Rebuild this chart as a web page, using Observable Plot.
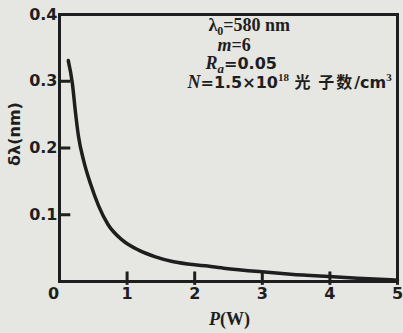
<!DOCTYPE html>
<html>
<head>
<meta charset="utf-8">
<script src="https://cdn.jsdelivr.net/npm/d3@7"></script>
<script src="https://cdn.jsdelivr.net/npm/@observablehq/plot@0.6"></script>
<style>
  html, body { margin: 0; padding: 0; background: #e6e6e2; }
  #chart svg { display: block; }
</style>
</head>
<body>
<div id="chart"></div>
<script>
// Data
const power = [0.13, 0.19, 0.24, 0.28, 0.36, 0.46, 0.58, 0.72, 0.93, 1.17, 1.42, 1.67, 2.16, 2.43, 2.99, 3.42, 3.98, 4.41, 5.0];
const deltaLambda = [0.331, 0.297, 0.250, 0.218, 0.180, 0.146, 0.113, 0.085, 0.062, 0.047, 0.037, 0.030, 0.0235, 0.020, 0.0145, 0.011, 0.0075, 0.005, 0.002];
const xTicks = [1, 2, 3, 4, 5];
const yTicks = [0.1, 0.2, 0.3, 0.4];
const xLabel = "P(W)";
const yLabel = "δλ(nm)";
const notes = ["λ0=580 nm", "m=6", "Ra=0.05", "N=1.5×1018 光子数/cm3"];

const curve = power.map((p, i) => ({p, v: deltaLambda[i]}));
const xTickMarks = xTicks.map(x => ({x, ya: -0.005, yb: 0.015}));
const yTickMarks = yTicks.map(y => ({y, xa: 0, xb: 0.16}));
const ink = "#1e1e1e";
const tickFont = "DejaVu Sans, sans-serif";
const serif = "Liberation Serif, DejaVu Serif, serif";

const noteStyle = [
  {dx: 149, dy: 11},
  {dx: 158, dy: 31},
  {dx: 146, dy: 49},
  {dx: 128, dy: 68}
];

const chart = Plot.plot({
  width: 403,
  height: 333,
  marginLeft: 59,
  marginRight: 6,
  marginTop: 14,
  marginBottom: 52,
  style: {background: "#e6e6e2", color: ink, fontFamily: tickFont},
  x: {type: "linear", domain: [0, 5]},
  y: {type: "linear", domain: [0, 0.4]},
  marks: [
    Plot.frame({stroke: ink, strokeWidth: 3}),
    Plot.axisX(xTicks, {tickSize: 0, tickPadding: 6, fontSize: 16, fontWeight: "bold", fontFamily: tickFont, label: null, tickFormat: d3.format("d")}),
    Plot.axisX([0], {tickSize: 0, tickPadding: 6, dx: -6, fontSize: 16, fontWeight: "bold", fontFamily: tickFont, label: null, tickFormat: d3.format("d")}),
    Plot.axisY(yTicks, {tickSize: 0, tickPadding: 2, fontSize: 16, fontWeight: "bold", fontFamily: tickFont, label: null, tickFormat: d3.format(".1f")}),
    // inward tick marks
    Plot.link(xTickMarks, {x1: "x", x2: "x", y1: "ya", y2: "yb", stroke: ink, strokeWidth: 3}),
    Plot.link(yTickMarks, {x1: "xa", x2: "xb", y1: "y", y2: "y", stroke: ink, strokeWidth: 3}),
    Plot.line(curve, {x: "p", y: "v", stroke: ink, strokeWidth: 3.5, curve: "monotone-x"}),
    Plot.text([yLabel], {frameAnchor: "left", textAnchor: "middle", dx: -45, dy: -14, rotate: -90, fontSize: 16, fontWeight: "bold", fontFamily: tickFont, fill: ink}),
    Plot.text([xLabel], {frameAnchor: "bottom", dx: 1, dy: 43, fontSize: 18, fontWeight: "bold", fontFamily: serif, fill: ink}),
    ...notes.map((t, i) => Plot.text([t], {
      frameAnchor: "top-left", textAnchor: "start", lineAnchor: "middle",
      dx: noteStyle[i].dx, dy: noteStyle[i].dy,
      fontSize: 18, fontWeight: "bold", fontFamily: serif, fill: ink
    }))
  ]
});

document.getElementById("chart").appendChild(chart);

// rich text formatting (italics, sub/superscripts)
const sans = 'font-family="DejaVu Sans" font-size="16"';
const rich = {
  "P(W)": '<tspan font-style="italic">P</tspan>(W)',
  "λ0=580 nm": 'λ<tspan font-size="12" dy="4">0</tspan><tspan dy="-4">=580 nm</tspan>',
  "m=6": '<tspan font-style="italic">m</tspan>=6',
  "Ra=0.05": '<tspan font-style="italic">R</tspan><tspan font-style="italic" font-size="13" dy="4">a</tspan><tspan dy="-4" ' + sans + '>=0.05</tspan>',
  "N=1.5×1018 光子数/cm3": '<tspan font-style="italic">N</tspan><tspan ' + sans + '>=1.5×10</tspan><tspan font-size="11" dy="-7">18</tspan><tspan dy="7" font-family="Noto Sans CJK SC" font-size="16" letter-spacing="2"> 光 子数</tspan><tspan ' + sans + '>/cm</tspan><tspan font-size="11" dy="-7">3</tspan>'
};
d3.select(chart).selectAll("text").each(function() {
  const t = this.textContent;
  if (rich[t] !== undefined) this.innerHTML = rich[t];
});
</script>
</body>
</html>
